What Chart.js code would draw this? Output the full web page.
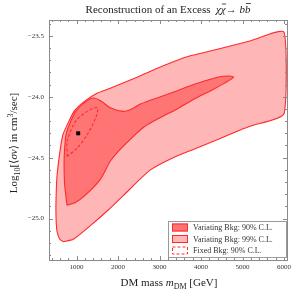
<!DOCTYPE html>
<html>
<head>
<meta charset="utf-8">
<script src="https://cdn.jsdelivr.net/npm/chart.js@4"></script>
<style>
  html, body { margin:0; padding:0; background:#fff; }
  #wrap { width:297px; height:297px; }
</style>
</head>
<body>
<div id="wrap"><canvas id="c" width="297" height="297"></canvas></div>
<script>
// ---- data (DM mass in GeV, log10 <sigma v>) ----
const outer99X = [680, 600, 559, 523, 504, 510, 530, 600, 673, 777, 939, 1182, 1504, 1811, 2457, 2852, 3586, 4394, 5200, 6000,
                  6000, 5200, 4958, 4474, 3828, 3264, 2779, 2457, 2133, 1731, 1327, 923, 680];
const outer99Y = [-25.19, -25.17, -25.14, -25.09, -24.95, -24.80, -24.65, -24.45, -24.31, -24.23, -24.12, -24.04, -23.97, -23.93, -23.84, -23.78, -23.68, -23.61, -23.54, -23.47,
                  -24.14, -24.24, -24.27, -24.34, -24.43, -24.51, -24.60, -24.70, -24.81, -24.94, -25.06, -25.17, -25.19];

const inner90X = [770, 714, 700, 709, 746, 826, 981, 1223, 1400, 1570, 1811, 2133, 2336, 2537, 3022, 3426, 3910, 4394, 4675, 4781,
                  4554, 4232, 3828, 3426, 3022, 2617, 2295, 1973, 1811, 1569, 1206, 964, 770];
const inner90Y = [-24.89, -24.72, -24.56, -24.45, -24.31, -24.23, -24.12, -24.04, -24.01, -24.03, -24.09, -24.12, -24.10, -24.06, -24.00, -23.95, -23.89, -23.84, -23.83, -23.84,
                  -23.89, -23.95, -24.02, -24.10, -24.17, -24.25, -24.35, -24.46, -24.53, -24.68, -24.81, -24.87, -24.89];

const fixed90X = [777, 777, 981, 1261, 1504, 1465, 1261, 1019, 777];
const fixed90Y = [-24.49, -24.36, -24.20, -24.12, -24.09, -24.17, -24.31, -24.42, -24.49];

const bestFit = { x: 1040, y: -24.30 };

const xTicks = [1000, 2000, 3000, 4000, 5000, 6000];
const yTicks = [-25.0, -24.5, -24.0, -23.5];
const legendLabels = ["Variating Bkg: 90% C.L.", "Variating Bkg: 99% C.L.", "Fixed Bkg: 90% C.L."];

const RED = "#ff2a2a";
const FILL99 = "#ffb6b6";
const FILL90 = "#ff7474";
const SERIF = '"Liberation Serif", "DejaVu Serif", serif';

function pts(xs, ys){ return xs.map((x, i) => ({ x, y: ys[i] })); }

// draw a run of text pieces (mixed fonts / sub / sup / overbar)
function drawRich(ctx, segs, cx, cy){
  let total = 0;
  segs.forEach(s => { ctx.font = s.f; s.w = ctx.measureText(s.t).width; total += s.w; });
  let x = cx - total / 2;
  ctx.textAlign = "left";
  ctx.textBaseline = "alphabetic";
  segs.forEach(s => {
    ctx.font = s.f;
    ctx.fillText(s.t, x, cy + (s.dy || 0));
    if(s.bar){
      ctx.save();
      ctx.lineWidth = 0.8;
      ctx.strokeStyle = ctx.fillStyle;
      ctx.beginPath();
      ctx.moveTo(x + 1, cy - s.bar);
      ctx.lineTo(x + s.w + 0.5, cy - s.bar);
      ctx.stroke();
      ctx.restore();
    }
    x += s.w;
  });
}

const textPlugin = {
  id: "texts",
  afterDraw(chart){
    const ctx = chart.ctx;
    const a = chart.chartArea;
    const n11 = "11px " + SERIF, i11 = "italic 11px " + SERIF, n8 = "8px " + SERIF;
    ctx.save();
    ctx.fillStyle = "#222";
    // title
    drawRich(ctx, [
      { t: "Reconstruction of an Excess  ", f: n11 },
      { t: "\u03C7", f: i11 },
      { t: "\u03C7", f: i11, bar: 9 },
      { t: "\u2192 ", f: n11 },
      { t: "b", f: i11 },
      { t: "b", f: i11, bar: 9.5 }
    ], (a.left + a.right) / 2, 13);
    // x axis title
    drawRich(ctx, [
      { t: "DM mass ", f: n11 },
      { t: "m", f: i11 },
      { t: "DM", f: n8, dy: 2.5 },
      { t: " [GeV]", f: n11 }
    ], (a.left + a.right) / 2 + 1, 286);
    // y axis title
    ctx.save();
    ctx.translate(17, 143);
    ctx.rotate(-Math.PI / 2);
    drawRich(ctx, [
      { t: "Log", f: n11 },
      { t: "10", f: n8, dy: 2.5 },
      { t: "[\u27E8", f: n11 },
      { t: "\u03C3v", f: i11 },
      { t: "\u27E9 in cm", f: n11 },
      { t: "3", f: n8, dy: -4 },
      { t: "/sec]", f: n11 }
    ], 0, 0);
    ctx.restore();

    // legend
    const lx = 168, ly = 221, lw = 118, lh = 36;
    ctx.fillStyle = "#fff";
    ctx.fillRect(lx, ly, lw, lh);
    ctx.strokeStyle = "#999";
    ctx.lineWidth = 1;
    ctx.strokeRect(lx + 0.5, ly + 0.5, lw, lh);
    const rows = [ly + 6.5, ly + 18, ly + 29.5];
    const fills = [FILL90, FILL99, null];
    rows.forEach((ry, i) => {
      ctx.save();
      ctx.strokeStyle = RED;
      ctx.lineWidth = 1;
      if(fills[i]){ ctx.fillStyle = fills[i]; ctx.fillRect(lx + 4, ry - 4, 16, 8); }
      else ctx.setLineDash([3, 2]);
      ctx.strokeRect(lx + 4.5, ry - 3.5, 15, 7);
      ctx.restore();
      ctx.fillStyle = "#333";
      ctx.font = "8px " + SERIF;
      ctx.textAlign = "left";
      ctx.textBaseline = "middle";
      ctx.fillText(legendLabels[i], lx + 25, ry + 0.5);
    });
    ctx.restore();
  }
};

// frame with inward ticks on all four sides
const framePlugin = {
  id: "frame",
  afterDatasetsDraw(chart){
    const ctx = chart.ctx, a = chart.chartArea;
    const xs = chart.scales.x, ys = chart.scales.y;
    ctx.save();
    ctx.strokeStyle = "#8a8a8a";
    ctx.lineWidth = 1;
    ctx.strokeRect(Math.round(a.left) + 0.5, Math.round(a.top) + 0.5, Math.round(a.right - a.left), Math.round(a.bottom - a.top));
    ctx.beginPath();
    for(let v = 400; v <= 6000; v += 200){
      const px = Math.round(xs.getPixelForValue(v)) + 0.5;
      const len = (v % 1000 === 0) ? 4 : 2;
      ctx.moveTo(px, a.bottom); ctx.lineTo(px, a.bottom - len);
      ctx.moveTo(px, a.top); ctx.lineTo(px, a.top + len);
    }
    for(let k = -253; k <= -234; k++){
      const v = k / 10;
      const py = Math.round(ys.getPixelForValue(v)) + 0.5;
      const len = (k % 5 === 0) ? 4 : 2;
      ctx.moveTo(a.left, py); ctx.lineTo(a.left + len, py);
      ctx.moveTo(a.right, py); ctx.lineTo(a.right - len, py);
    }
    ctx.stroke();
    ctx.restore();
  }
};

new Chart(document.getElementById("c"), {
  type: "scatter",
  data: {
    datasets: [
      { label: "best fit", data: [bestFit], pointStyle: "rect", pointRadius: 2.8, backgroundColor: "#000", borderColor: "#000", borderWidth: 0, order: 0 },
      { label: legendLabels[2], data: pts(fixed90X, fixed90Y), showLine: true, fill: false, borderColor: RED, borderWidth: 1.1, borderDash: [3, 2], pointRadius: 0, tension: 0.3, order: 1 },
      { label: legendLabels[0], data: pts(inner90X, inner90Y), showLine: true, fill: "shape", backgroundColor: FILL90, borderColor: RED, borderWidth: 1.1, pointRadius: 0, tension: 0.3, order: 2 },
      { label: legendLabels[1], data: pts(outer99X, outer99Y), showLine: true, fill: "shape", backgroundColor: FILL99, borderColor: RED, borderWidth: 1.1, pointRadius: 0, tension: 0.2, order: 3 }
    ]
  },
  options: {
    responsive: false,
    devicePixelRatio: 1,
    animation: false,
    layout: { padding: { top: 20, right: 10, left: 0, bottom: 0 } },
    plugins: { legend: { display: false }, tooltip: { enabled: false }, title: { display: false } },
    scales: {
      x: {
        type: "linear", min: 337, max: 6070,
        grid: { display: false, drawTicks: false },
        border: { display: false },
        afterBuildTicks: ax => { ax.ticks = xTicks.map(v => ({ value: v })); },
        afterFit: ax => { ax.height = 37; },
        ticks: { padding: 3, color: "#333", font: { family: SERIF, size: 7 }, maxRotation: 0, callback: v => String(v) }
      },
      y: {
        type: "linear", min: -25.34, max: -23.37,
        grid: { display: false, drawTicks: false },
        border: { display: false },
        afterBuildTicks: ax => { ax.ticks = yTicks.map(v => ({ value: v })); },
        afterFit: ax => { ax.width = 49; },
        ticks: { padding: 5, color: "#333", font: { family: SERIF, size: 7 }, callback: v => "\u2212" + Math.abs(v).toFixed(1) }
      }
    }
  },
  plugins: [framePlugin, textPlugin]
});
</script>
</body>
</html>
